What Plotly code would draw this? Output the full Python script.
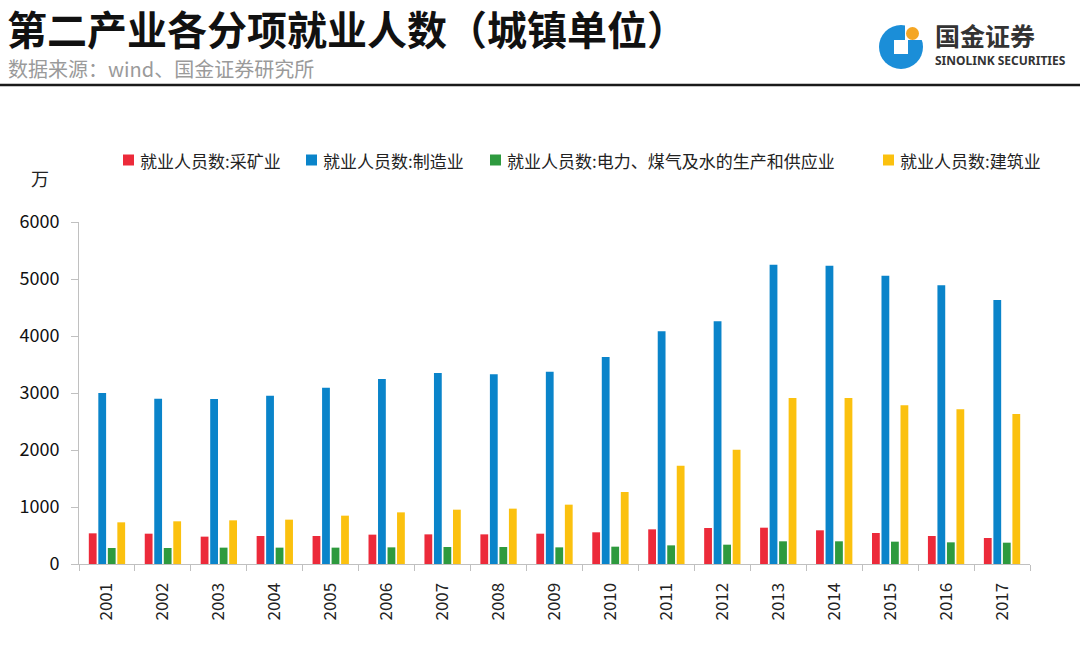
import plotly.graph_objects as go

# ---- data ----
years = [str(y) for y in range(2001, 2018)]
mining = [538, 532, 480, 491, 491, 515, 520, 520, 532, 556, 608, 632, 637, 591, 544, 491, 456]
manufacturing = [3000, 2901, 2895, 2953, 3094, 3246, 3351, 3327, 3374, 3632, 4082, 4257, 5251, 5234, 5058, 4889, 4632]
utilities = [281, 281, 287, 287, 287, 292, 298, 298, 292, 304, 327, 339, 398, 398, 392, 380, 374]
construction = [731, 749, 766, 778, 848, 906, 953, 971, 1041, 1263, 1725, 2006, 2912, 2912, 2784, 2713, 2632]

series_names = ["就业人员数:采矿业", "就业人员数:制造业",
                "就业人员数:电力、煤气及水的生产和供应业", "就业人员数:建筑业"]
series_values = [mining, manufacturing, utilities, construction]
series_colors = ["#EC2A3A", "#0A84CA", "#2E9A3E", "#FBC10F"]

title_text = "第二产业各分项就业人数（城镇单位）"
source_text = "数据来源：wind、国金证券研究所"
unit_text = "万"

CJK = "Noto Sans CJK SC"

FW, FH = 1080, 671
# plot area in pixels
L, R, T, B = 79, 1030, 222, 564
W, H = R - L, B - T


def px(x):
    return (x - L) / W


def py(y):
    return (B - y) / H


fig = go.Figure()
for name, vals, col in zip(series_names, series_values, series_colors):
    fig.add_trace(go.Bar(x=years, y=vals, name=name, showlegend=False,
                         marker=dict(color=col, line=dict(width=0))))

fig.update_layout(
    width=FW, height=FH,
    margin=dict(l=L, r=FW - R, t=T, b=FH - B),
    paper_bgcolor="white", plot_bgcolor="white",
    barmode="group", bargap=0.32, bargroupgap=0.18,
    font=dict(family=CJK, size=18, color="#222"),
    showlegend=False,
    xaxis=dict(type="category", showline=True, linecolor="#c0c0c0", linewidth=1,
               ticks="outside", tickson="boundaries", ticklen=6, tickcolor="#c0c0c0",
               tickangle=-90, tickfont=dict(size=17, color="#222"), showgrid=False,
               ticklabelstandoff=11),
    yaxis=dict(range=[0, 6000], dtick=1000, showline=True, linecolor="#c0c0c0", linewidth=1,
               ticks="outside", ticklen=7, tickcolor="#c0c0c0", showgrid=False, zeroline=False,
               tickfont=dict(size=18, color="#111"), ticklabelstandoff=8),
)

annotations = [
    dict(text="<b>" + title_text + "</b>", x=px(6), y=py(27.5), xanchor="left", yanchor="middle",
         font=dict(family=CJK, size=40, color="#111")),
    dict(text=source_text, x=px(7), y=py(69), xanchor="left", yanchor="middle",
         font=dict(family=CJK, size=20, color="#9a9a9a")),
    dict(text=unit_text, x=px(40), y=py(178), xanchor="center", yanchor="middle",
         font=dict(family=CJK, size=18, color="#222")),
    dict(text="<b>国金证券</b>", x=px(934), y=py(35), xanchor="left", yanchor="middle",
         font=dict(family=CJK, size=25, color="#333")),
    dict(text="<b>SINOLINK SECURITIES</b>", x=px(934), y=py(61), xanchor="left", yanchor="middle",
         font=dict(family="Noto Sans", size=12, color="#333")),
]

shapes = [
    # header rule
    dict(type="line", x0=px(0), x1=px(1080), y0=py(85), y1=py(85),
         line=dict(color="#1a1a1a", width=2.5)),
    # logo ring
    dict(type="circle", x0=px(879), x1=px(923), y0=py(69), y1=py(25),
         fillcolor="#1B8ED8", line=dict(width=0)),
    dict(type="rect", x0=px(894), x1=px(908), y0=py(54), y1=py(40),
         fillcolor="white", line=dict(width=0)),
    dict(type="rect", x0=px(905), x1=px(926), y0=py(40), y1=py(22),
         fillcolor="white", line=dict(width=0)),
    dict(type="circle", x0=px(906), x1=px(919), y0=py(40), y1=py(27),
         fillcolor="#F5A623", line=dict(width=0)),
]

# legend (drawn manually to match spacing of the reference)
legend_sq_x = [123, 306, 490, 883]
legend_y = 160
for sx, name, col in zip(legend_sq_x, series_names, series_colors):
    shapes.append(dict(type="rect", x0=px(sx), x1=px(sx + 11), y0=py(legend_y + 5.5),
                       y1=py(legend_y - 5.5), fillcolor=col, line=dict(width=0)))
    annotations.append(dict(text=name, x=px(sx + 16), y=py(legend_y), xanchor="left",
                            yanchor="middle", font=dict(family=CJK, size=17, color="#222")))

for a in annotations:
    a.update(xref="paper", yref="paper", showarrow=False, borderpad=0)
for s in shapes:
    s.update(xref="paper", yref="paper", layer="above")
fig.update_layout(annotations=annotations, shapes=shapes)

# remove the default page margin so the figure fills the 1080x671 window exactly
fig.write_html("out.html",
               config={"displayModeBar": False},
               post_script="document.body.style.margin='0';document.body.style.overflow='hidden';")
